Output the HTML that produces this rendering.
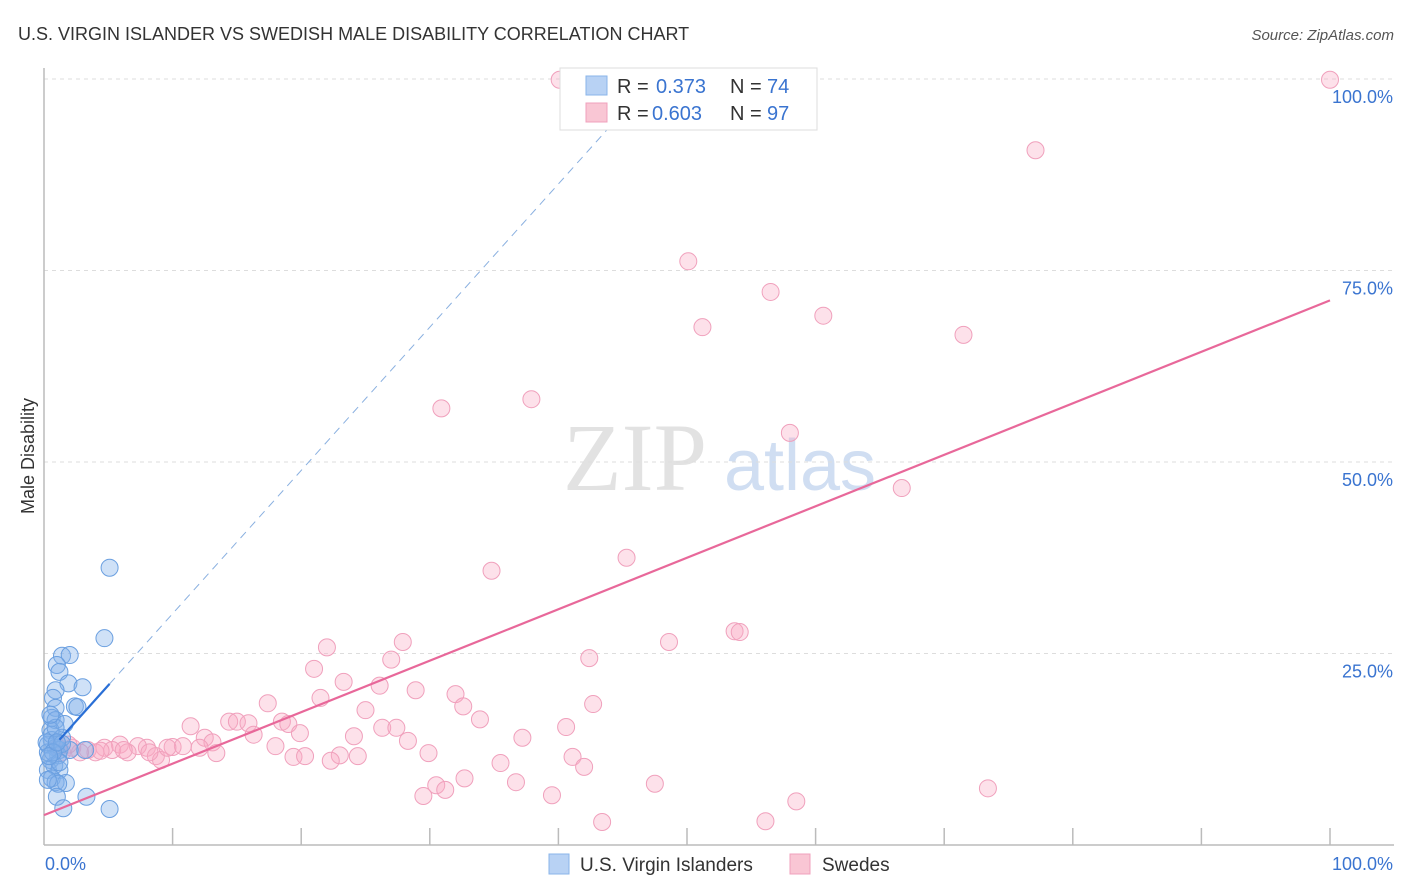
<!DOCTYPE html>
<html><head><meta charset="utf-8"><style>
body{margin:0;background:#fff;font-family:"Liberation Sans",sans-serif;}
svg{display:block}
</style></head><body>
<svg id="chart" width="1406" height="892" xmlns="http://www.w3.org/2000/svg">
<text x="18" y="40" font-size="18" fill="#333">U.S. VIRGIN ISLANDER VS SWEDISH MALE DISABILITY CORRELATION CHART</text>
<text x="1394" y="40" font-size="15" fill="#555" font-style="italic" text-anchor="end">Source: ZipAtlas.com</text>
<text transform="translate(34,456) rotate(-90)" font-size="18" fill="#333" text-anchor="middle">Male Disability</text>
<g><text x="635" y="490" font-size="96" font-family="Liberation Serif,serif" fill="#e2e2e2" text-anchor="middle">ZIP</text><text x="800" y="490" font-size="72" fill="#d0def2" text-anchor="middle">atlas</text></g>
<g id="grid"></g><g id="axes"></g><g id="marks"></g>
<g>
<rect x="560" y="68" width="257" height="62" fill="#fff" stroke="#ddd"/>
<rect x="586" y="76" width="21" height="19" fill="#b8d2f4" stroke="#8ab4ea"/>
<rect x="586" y="103" width="21" height="19" fill="#f9c6d4" stroke="#f0a0bc"/>
<text x="617" y="93" font-size="20" fill="#333">R = <tspan x="656" fill="#3a74d0">0.373</tspan><tspan x="730">N = </tspan><tspan x="767" fill="#3a74d0">74</tspan></text>
<text x="617" y="120" font-size="20" fill="#333">R = <tspan x="652" fill="#3a74d0">0.603</tspan><tspan x="730">N = </tspan><tspan x="767" fill="#3a74d0">97</tspan></text>
</g>
<g>
<rect x="549" y="854" width="20" height="20" fill="#b8d2f4" stroke="#8ab4ea"/>
<text x="580" y="871" font-size="19" fill="#333">U.S. Virgin Islanders</text>
<rect x="790" y="854" width="20" height="20" fill="#f9c6d4" stroke="#f0a0bc"/>
<text x="822" y="871" font-size="19" fill="#333">Swedes</text>
</g>
</svg>
<script>
const yTicks=[25,50,75,100];
const yTickLabels=["25.0%","50.0%","75.0%","100.0%"];
const xTickLabels=["0.0%","100.0%"];
const pinkX=[40.1,100,77.1,50.1,56.5,60.6,51.2,71.5,37.9,30.9,58.0,66.7,45.3,34.8,53.7,54.1,48.6,27.9,22.0,42.4,27.0,21.0,23.3,26.1,17.4,28.9,32.0,21.5,32.6,42.7,25.0,11.4,14.4,15.0,15.9,18.5,19.0,19.9,16.3,33.9,40.6,26.3,27.4,37.2,24.1,28.3,12.5,13.1,10.0,10.8,8.0,7.3,5.9,4.7,3.4,2.2,1.4,18.0,13.4,8.7,6.5,9.1,19.4,20.3,23.0,24.4,22.3,29.9,41.1,35.5,42.0,32.7,36.7,30.5,31.2,29.5,39.5,47.5,73.4,58.5,43.4,56.1,5.3,4.0,2.8,1.9,1.1,8.2,4.4,6.2,12.1,9.6];
const pinkY=[99.9,99.9,90.7,76.2,72.2,69.1,67.6,66.6,58.2,57.0,53.8,46.6,37.5,35.8,27.9,27.8,26.5,26.5,25.8,24.4,24.2,23.0,21.3,20.8,18.5,20.2,19.7,19.2,18.1,18.4,17.6,15.5,16.1,16.1,15.9,16.1,15.8,14.6,14.4,16.4,15.4,15.3,15.3,14.0,14.2,13.6,14.0,13.4,12.8,12.9,12.7,12.9,13.1,12.7,12.4,12.7,12.1,12.9,12.0,11.6,12.1,11.1,11.5,11.6,11.7,11.6,11.0,12.0,11.5,10.7,10.2,8.7,8.2,7.8,7.2,6.4,6.5,8.0,7.4,5.7,3.0,3.1,12.4,12.1,12.1,13.1,12.7,12.1,12.3,12.4,12.7,12.7];
const blueX=[5.1,4.7,1.4,2.0,1.0,1.2,1.9,3.0,0.9,0.7,2.4,2.6,0.9,0.6,0.9,1.6,0.5,0.6,0.3,0.9,1.2,1.1,0.5,0.8,0.3,1.2,0.6,0.9,1.7,1.1,1.0,1.5,3.3,5.1,3.2,2.0,0.3,0.6,1.4,0.2,0.9,0.5,1.2,0.3,1.4,0.7,0.4,1.0];
const blueY=[36.2,27.0,24.7,24.8,23.5,22.6,21.1,20.6,20.2,19.2,18.1,18.0,17.9,16.6,16.3,15.8,15.0,13.7,13.1,12.7,12.4,11.7,11.1,10.4,9.8,9.8,8.7,8.2,8.1,8.0,6.3,4.8,6.3,4.7,12.4,12.4,12.1,14.4,14.0,13.4,15.3,17.0,10.8,8.5,13.2,12.1,11.6,13.4];
const pinkTrend=[3.9,71.1];
const blueTrend=[11.5,1.87];
const NS="http://www.w3.org/2000/svg";
const X0=44,X1=1330,Y0=845,Y1=79;
function sx(v){return X0+(X1-X0)*v/100;}
function sy(v){return Y0-(Y0-Y1)*v/100;}
function mk(tag,attrs,parent){const e=document.createElementNS(NS,tag);for(const k in attrs)e.setAttribute(k,attrs[k]);parent.appendChild(e);return e;}
const grid=document.getElementById('grid'),axes=document.getElementById('axes'),marks=document.getElementById('marks');
yTicks.forEach((t,i)=>{
  const l=mk('line',{x1:X0,x2:1394,y1:sy(t),y2:sy(t),stroke:'#ddd','stroke-dasharray':'4,4'},grid);
  
  
  const tx=mk('text',{x:1393,y:sy(t)+24,'font-size':18,fill:'#3a74d0','text-anchor':'end'},axes);
  tx.textContent=yTickLabels[i];
  
  
});
const ya=mk('line',{x1:X0,x2:X0,y1:68,y2:Y0,stroke:'#bbb','stroke-width':1.5},axes);


const xa=mk('line',{x1:X0,x2:1394,y1:Y0,y2:Y0,stroke:'#bbb','stroke-width':1.5},axes);


for(let i=1;i<=10;i++){
  const tk=mk('line',{x1:sx(i*10),x2:sx(i*10),y1:828,y2:Y0,stroke:'#bbb','stroke-width':1.5},axes);
  
  
}
const xl0=mk('text',{x:45,y:870,'font-size':18,fill:'#3a74d0'},axes);xl0.textContent=xTickLabels[0];


const xl1=mk('text',{x:1393,y:870,'font-size':18,fill:'#3a74d0','text-anchor':'end'},axes);xl1.textContent=xTickLabels[1];


pinkX.forEach((x,i)=>{
  const c=mk('circle',{cx:sx(x),cy:sy(pinkY[i]),r:8.5,fill:'rgba(248,170,195,0.35)',stroke:'#f0a0bc','stroke-width':1},marks);
  
  
});
blueX.forEach((x,i)=>{
  const c=mk('circle',{cx:sx(x),cy:sy(blueY[i]),r:8.5,fill:'rgba(130,175,235,0.38)',stroke:'#6a9fe0','stroke-width':1},marks);
  
  
});
const pl=mk('line',{x1:sx(0),y1:sy(pinkTrend[0]),x2:sx(100),y2:sy(pinkTrend[1]),stroke:'#e8689a','stroke-width':2.2},marks);


const bEnd=(100-blueTrend[0])/blueTrend[1];
const bd=mk('line',{x1:sx(5.1),y1:sy(blueTrend[0]+blueTrend[1]*5.1),x2:sx(bEnd),y2:sy(100),stroke:'#8ab0e0','stroke-width':1,'stroke-dasharray':'8,6'},marks);


const bl=mk('line',{x1:sx(1.2),y1:sy(blueTrend[0]+blueTrend[1]*1.2),x2:sx(5.1),y2:sy(blueTrend[0]+blueTrend[1]*5.1),stroke:'#2a6fd6','stroke-width':2.2},marks);


</script>
</body></html>
